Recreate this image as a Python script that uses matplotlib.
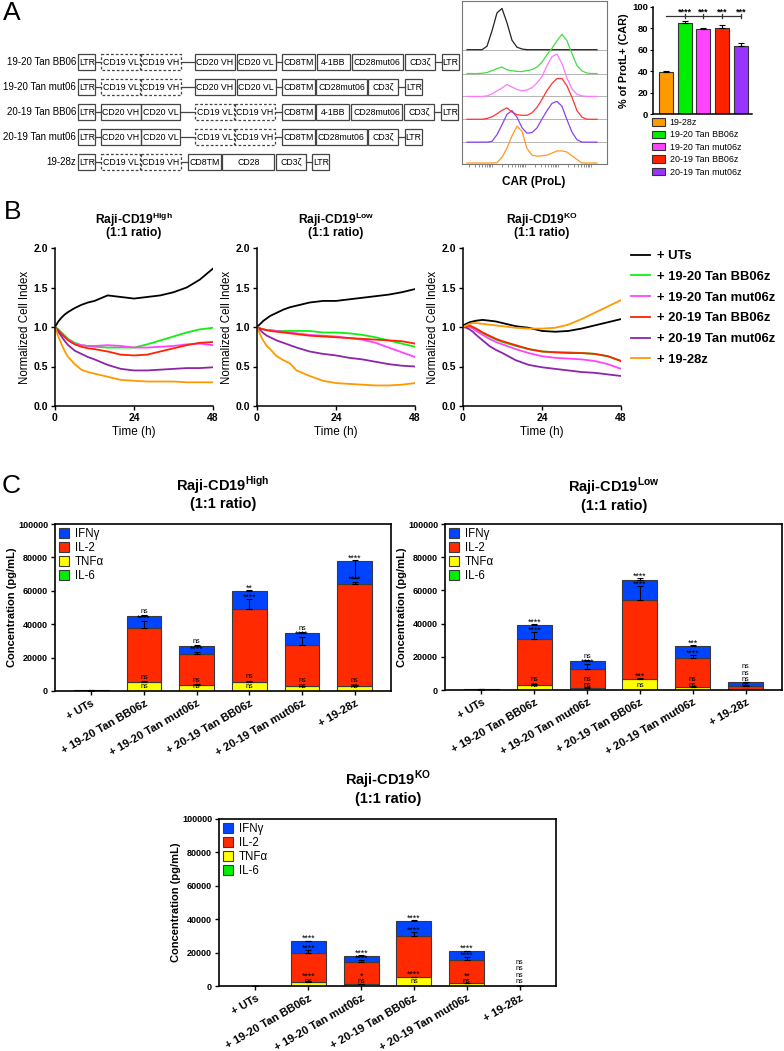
import numpy as np
import matplotlib
matplotlib.use('Agg')
import matplotlib.pyplot as plt
from matplotlib.patches import Rectangle, Patch
from matplotlib.ticker import FormatStrFormatter

plt.rcParams['font.family'] = ['Liberation Sans', 'DejaVu Sans']
plt.rcParams['mathtext.fontset'] = 'custom'
plt.rcParams['mathtext.rm'] = 'Liberation Sans'
plt.rcParams['mathtext.bf'] = 'Liberation Sans:bold'
plt.rcParams['axes.linewidth'] = 1.1

W, H = 784, 1051

# ---------------- data: panel A ----------------
constructs = ['19-20 Tan BB06', '19-20 Tan mut06', '20-19 Tan BB06', '20-19 Tan mut06', '19-28z']
box_w = {'LTR': 17, 'CD19 VL': 39, 'CD19 VH': 39.5, 'CD20 VH': 39.5, 'CD20 VL': 39,
         'CD8TM': 33, '4-1BB': 33, 'CD28mut06': 51, 'CD3ζ': 30, 'CD28': 52}
schematic_rows = [
    [('LTR', 0), ('CD19 VL', 6), ('CD19 VH', 1), ('CD20 VH', 14.5), ('CD20 VL', 2),
     ('CD8TM', 6), ('4-1BB', 2), ('CD28mut06', 2), ('CD3ζ', 2), ('LTR', 7)],
    [('LTR', 0), ('CD19 VL', 6), ('CD19 VH', 1), ('CD20 VH', 14.5), ('CD20 VL', 2),
     ('CD8TM', 6.5), ('CD28mut06', 1), ('CD3ζ', 1), ('LTR', 7)],
    [('LTR', 0), ('CD20 VH', 6), ('CD20 VL', 0.5), ('CD19 VL', 15), ('CD19 VH', 1),
     ('CD8TM', 7.5), ('4-1BB', 1), ('CD28mut06', 2), ('CD3ζ', 2), ('LTR', 7)],
    [('LTR', 0), ('CD20 VH', 6), ('CD20 VL', 0.5), ('CD19 VL', 15), ('CD19 VH', 1),
     ('CD8TM', 7.5), ('CD28mut06', 0.5), ('CD3ζ', 1), ('LTR', 7)],
    [('LTR', 0), ('CD19 VL', 6), ('CD19 VH', 1), ('CD8TM', 7.5), ('CD28', 1),
     ('CD3ζ', 2), ('LTR', 6)],
]

# flow histograms (CAR ProL), heights read per lane
hist_x = [5, 10, 15, 20, 25, 30, 35, 40, 45, 50, 55, 60, 65, 70, 75, 80, 85, 90,
          95, 100, 105, 110, 115, 120, 125, 130, 135]
hist_ut = [0, 0, 0, 0, 3.5, 19, 37, 41.5, 27, 9.5, 2.5, 0.7, 0, 0, 0, 0, 0, 0,
           0, 0, 0, 0, 0, 0, 0, 0, 0]
hist_bb1920 = [0, 0, 0, 0.3, 1, 3, 5, 6.5, 3.8, 2.8, 2.2, 2, 3, 4, 6.5, 11.5, 19, 25.5,
               33, 39.5, 33, 20, 8, 2.6, 0.5, 0, 0]
hist_mut1920 = [0, 0, 0, 0, 0.5, 2.5, 5.5, 8.5, 12, 9.5, 7, 5.6, 6.5, 8.8, 13.5, 20, 31, 40,
                42.5, 33, 18.5, 7.5, 2, 0.5, 0, 0, 0]
hist_bb2019 = [0, 0, 0, 0, 0.8, 2.5, 5.5, 9, 11.5, 7.2, 4.6, 4, 4, 6.5, 12, 20, 29, 36,
               41, 41, 33.5, 22, 8.6, 2, 0, 0, 0]
hist_mut2019 = [0, 0, 0, 0, 0, 0.8, 7.5, 17.5, 28, 31.7, 25, 14.5, 9, 9.7, 14.3, 23.3, 31.7, 39,
                41, 36, 22.5, 10, 2.4, 0, 0, 0, 0]
hist_1928 = [0, 0, 0, 0, 0, 0, 0.3, 5.8, 15, 27.4, 37, 32, 14.5, 7.9, 6.9, 7.2, 8, 9.9,
             12.1, 12.2, 11, 7.2, 3.5, 0, 0, 0, 0]

car_groups = ['19-28z', '19-20 Tan BB06z', '19-20 Tan mut06z', '20-19 Tan BB06z', '20-19 Tan mut06z']
car_pct = [39, 85, 79, 80, 64]
car_sd = [1.2, 1.5, 1.8, 2.8, 2.5]
car_stars = ['****', '***', '***', '***']

# ---------------- data: panel B ----------------
effectors = ['+ UTs', '+ 19-20 Tan BB06z', '+ 19-20 Tan mut06z', '+ 20-19 Tan BB06z',
             '+ 20-19 Tan mut06z', '+ 19-28z']
t_hours = [0, 1, 2, 3, 4, 6, 8, 10, 12, 16, 20, 24, 28, 32, 36, 40, 44, 48]
nci_high = [
    [1.00, 1.07, 1.12, 1.16, 1.19, 1.24, 1.28, 1.31, 1.33, 1.40, 1.38, 1.36, 1.38, 1.40, 1.44, 1.50, 1.60, 1.74],
    [1.00, 0.97, 0.93, 0.89, 0.85, 0.80, 0.77, 0.76, 0.75, 0.74, 0.74, 0.74, 0.78, 0.83, 0.88, 0.93, 0.97, 0.99],
    [1.00, 0.96, 0.92, 0.88, 0.84, 0.79, 0.77, 0.76, 0.76, 0.77, 0.76, 0.74, 0.74, 0.75, 0.76, 0.78, 0.79, 0.77],
    [1.00, 0.96, 0.91, 0.87, 0.83, 0.78, 0.75, 0.73, 0.72, 0.69, 0.65, 0.64, 0.65, 0.69, 0.73, 0.77, 0.80, 0.81],
    [1.00, 0.94, 0.88, 0.82, 0.77, 0.70, 0.66, 0.62, 0.59, 0.52, 0.47, 0.45, 0.45, 0.46, 0.47, 0.48, 0.48, 0.49],
    [1.00, 0.88, 0.78, 0.69, 0.62, 0.53, 0.46, 0.43, 0.41, 0.37, 0.33, 0.32, 0.31, 0.31, 0.31, 0.30, 0.30, 0.30],
]
nci_low = [
    [1.00, 1.04, 1.08, 1.11, 1.14, 1.18, 1.22, 1.25, 1.27, 1.31, 1.33, 1.33, 1.35, 1.37, 1.39, 1.41, 1.44, 1.48],
    [1.00, 0.98, 0.97, 0.96, 0.96, 0.95, 0.95, 0.95, 0.95, 0.95, 0.93, 0.93, 0.92, 0.90, 0.87, 0.83, 0.79, 0.75],
    [1.00, 0.98, 0.97, 0.96, 0.96, 0.95, 0.94, 0.93, 0.92, 0.90, 0.89, 0.88, 0.86, 0.84, 0.80, 0.74, 0.68, 0.62],
    [1.00, 0.98, 0.97, 0.96, 0.95, 0.94, 0.93, 0.92, 0.91, 0.89, 0.88, 0.87, 0.86, 0.85, 0.84, 0.83, 0.82, 0.79],
    [1.00, 0.96, 0.92, 0.89, 0.87, 0.83, 0.80, 0.77, 0.74, 0.69, 0.66, 0.64, 0.61, 0.59, 0.56, 0.53, 0.51, 0.50],
    [1.00, 0.90, 0.82, 0.76, 0.72, 0.63, 0.58, 0.54, 0.45, 0.38, 0.32, 0.29, 0.28, 0.27, 0.26, 0.26, 0.27, 0.29],
]
nci_ko = [
    [1.02, 1.04, 1.06, 1.07, 1.08, 1.09, 1.08, 1.07, 1.05, 1.01, 0.99, 0.95, 0.94, 0.95, 0.98, 1.02, 1.06, 1.10],
    [1.00, 1.01, 1.01, 0.99, 0.97, 0.92, 0.88, 0.84, 0.81, 0.76, 0.72, 0.69, 0.68, 0.68, 0.67, 0.66, 0.63, 0.57],
    [1.00, 1.00, 1.00, 0.98, 0.95, 0.90, 0.85, 0.81, 0.78, 0.72, 0.67, 0.63, 0.61, 0.60, 0.59, 0.57, 0.53, 0.47],
    [1.00, 1.01, 1.02, 1.00, 0.98, 0.93, 0.89, 0.85, 0.82, 0.77, 0.72, 0.69, 0.68, 0.67, 0.67, 0.66, 0.63, 0.57],
    [1.00, 0.99, 0.97, 0.94, 0.90, 0.83, 0.76, 0.71, 0.67, 0.58, 0.52, 0.49, 0.47, 0.45, 0.43, 0.42, 0.40, 0.38],
    [1.00, 1.02, 1.04, 1.05, 1.05, 1.04, 1.03, 1.02, 1.01, 0.99, 0.98, 0.98, 0.99, 1.03, 1.10, 1.18, 1.26, 1.34],
]

# ---------------- data: panel C (pg/mL) ----------------
cytokines = ['IFNγ', 'IL-2', 'TNFα', 'IL-6']
high_il6 = [20, 50, 30, 60, 30, 40]
high_tnf = [150, 5200, 3500, 5600, 2700, 3200]
high_il2 = [100, 32400, 18500, 43400, 24900, 60800]
high_ifn = [100, 7000, 4800, 11000, 7000, 13800]
high_tnf_sd = [0, 600, 400, 500, 400, 400]
high_il2_sd = [0, 4500, 1500, 6000, 5000, 1500]
high_ifn_sd = [0, 700, 600, 500, 500, 400]
high_ifn_lo = [0, 0, 0, 0, 0, 10000]
high_sig = [['', '', '', ''], ['ns', '****', 'ns', 'ns'], ['ns', '****', 'ns', 'ns'],
            ['**', '****', 'ns', 'ns'], ['ns', '****', 'ns', 'ns'], ['****', '****', 'ns', 'ns']]

low_il6 = [20, 50, 30, 60, 30, 20]
low_tnf = [100, 2800, 1400, 6400, 2000, 600]
low_il2 = [100, 27700, 11500, 47600, 17300, 1600]
low_ifn = [100, 8500, 4400, 12000, 7000, 2400]
low_tnf_sd = [0, 500, 300, 600, 400, 200]
low_il2_sd = [0, 4200, 2800, 8700, 1600, 600]
low_ifn_sd = [0, 500, 600, 1500, 500, 400]
low_ifn_lo = [0, 0, 0, 0, 0, 0]
low_sig = [['', '', '', ''], ['****', '****', 'ns', 'ns'], ['ns', '****', 'ns', 'ns'],
           ['****', '****', '***', 'ns'], ['***', '****', 'ns', 'ns'], ['ns', 'ns', 'ns', 'ns']]

ko_il6 = [0, 40, 20, 50, 20, 0]
ko_tnf = [0, 2600, 1200, 5200, 1800, 0]
ko_il2 = [0, 17200, 13400, 24400, 14000, 0]
ko_ifn = [0, 7000, 3600, 9400, 5000, 0]
ko_tnf_sd = [0, 300, 200, 400, 200, 0]
ko_il2_sd = [0, 1800, 800, 2600, 1400, 0]
ko_ifn_sd = [0, 400, 300, 400, 300, 0]
ko_ifn_lo = [0, 0, 0, 0, 0, 0]
ko_sig = [['', '', '', ''], ['****', '****', '****', 'ns'], ['****', '****', '*', 'ns'],
          ['****', '****', '****', 'ns'], ['****', '****', '**', 'ns'], ['ns', 'ns', 'ns', 'ns']]

# ---------------- styles ----------------
car_colors = ['#ff9900', '#00ee00', '#ff44ff', '#ff2200', '#9933ff']
hist_colors = ['#222222', '#44dd44', '#ff77ff', '#ff3333', '#8844ee', '#ff9922']
kin_colors = ['black', '#11ee11', '#ff44ff', '#ff2200', '#8e24aa', '#ff9900']
cyto_colors = {'IFNγ': '#0044ff', 'IL-2': '#ff2a00', 'TNFα': '#ffff00', 'IL-6': '#00ee00'}


def px_axes(fig, l, t, r, b):
    return fig.add_axes([l / W, 1 - b / H, (r - l) / W, (b - t) / H])


def bold_ticks(ax, size):
    ax.tick_params(labelsize=size)
    for lab in ax.get_xticklabels() + ax.get_yticklabels():
        lab.set_fontweight('bold')


fig = plt.figure(figsize=(W / 100, H / 100), dpi=100)
over = fig.add_axes([0, 0, 1, 1])
over.set_xlim(0, W)
over.set_ylim(H, 0)
over.axis('off')

for letter, lx, ly in [('A', 3, 1), ('B', 4, 200), ('C', 2, 474)]:
    over.text(lx, ly, letter, fontsize=19, va='top', ha='left')

# ---- A: schematic ----
row_y = [62, 87, 112, 137, 162]
for label, row, yc in zip(constructs, schematic_rows, row_y):
    over.text(76, yc, label, ha='right', va='center', fontsize=7)
    prev_end = None
    x = 78.3
    for name, gap in row:
        if prev_end is not None:
            x = prev_end + gap
            if gap >= 5:
                over.plot([prev_end, x], [yc, yc], color='#444444', lw=0.9)
        w = box_w[name]
        ls = (0, (2.2, 1.6)) if name.startswith('CD19') else '-'
        over.add_patch(Rectangle((x, yc - 8), w, 16, fill=False, ec='#444444', lw=0.9, ls=ls))
        over.text(x + w / 2, yc + 0.5, name, ha='center', va='center', fontsize=6.3)
        prev_end = x + w

# ---- A: histograms ----
axh = px_axes(fig, 462, 1, 607, 164)
lanes = [hist_ut, hist_bb1920, hist_mut1920, hist_bb2019, hist_mut2019, hist_1928]
bases = [115, 91, 68, 45, 22, 1]
for base in bases[:-1]:
    axh.axhline(base, color='#aaaaaa', lw=0.6, zorder=1)
for h, base, col in zip(lanes, bases, hist_colors):
    axh.plot(hist_x, np.array(h) + base, color=col, lw=0.9, zorder=2)
axh.set_xlim(0, 145)
axh.set_ylim(0, 164)
for sp in axh.spines.values():
    sp.set_color('#777777')
    sp.set_linewidth(0.8)
decades = np.array([30, 63, 96, 129])
minor = [d - 33 * (1 - np.log10(k)) for d in decades for k in range(2, 10)]
axh.set_xticks(list(decades) + [m for m in minor if m > 0])
axh.tick_params(axis='x', length=2, width=0.5, color='#666666', labelbottom=False)
axh.set_yticks([])
over.text(534, 182, 'CAR (ProL)', ha='center', va='center', fontsize=8.5, fontweight='bold')

# ---- A: % CAR bar chart ----
axb = px_axes(fig, 653, 7, 752, 114)
xb = np.arange(len(car_pct))
axb.bar(xb, car_pct, width=0.75, color=car_colors, edgecolor='#333333', lw=0.8)
axb.errorbar(xb, car_pct, yerr=[np.zeros(len(car_sd)), car_sd], fmt='none',
             ecolor='black', elinewidth=0.8, capsize=2.5, capthick=0.8)
axb.set_xlim(-0.69, 4.59)
axb.set_ylim(0, 100)
axb.set_yticks(range(0, 101, 20))
axb.set_xticks([])
axb.spines['top'].set_visible(False)
axb.spines['right'].set_visible(False)
axb.plot([0, 4], [91.6, 91.6], color='#333333', lw=0.9, clip_on=False)
for i, s in enumerate(car_stars, start=1):
    axb.plot([i, i], [89.5, 93.6], color='#333333', lw=0.9, clip_on=False)
    axb.text(i, 95.5, s, ha='center', va='center', fontsize=6.5, fontweight='bold')
bold_ticks(axb, 6.8)
axb.tick_params(axis='y', length=2.5, pad=1)
axb.set_ylabel('% of ProtL+ (CAR)', fontsize=7.8, fontweight='bold', labelpad=2)
fig.legend([Patch(facecolor=c, edgecolor='#333333', lw=0.8) for c in car_colors], car_groups,
           loc='upper left', bbox_to_anchor=(652 / W, 1 - 118 / H), frameon=False,
           fontsize=6.4, handlelength=1.5, handleheight=0.9, labelspacing=0.38,
           handletextpad=0.5, borderpad=0, borderaxespad=0)

# ---- B: killing kinetics ----
b_boxes = [(55, 213), (257, 415), (463, 621)]
b_titles = [r'Raji-CD19$^{\mathbf{High}}$', r'Raji-CD19$^{\mathbf{Low}}$', r'Raji-CD19$^{\mathbf{KO}}$']
b_lines = None
for (l, r), curves, title in zip(b_boxes, [nci_high, nci_low, nci_ko], b_titles):
    ax = px_axes(fig, l, 248, r, 406)
    lines = []
    for vals, col in zip(curves, kin_colors):
        ln, = ax.plot(t_hours, vals, color=col, lw=1.3)
        lines.append(ln)
    b_lines = lines
    ax.set_xlim(0, 48)
    ax.set_ylim(0, 2)
    ax.set_xticks([0, 24, 48])
    ax.set_yticks([0, 0.5, 1.0, 1.5, 2.0])
    ax.yaxis.set_major_formatter(FormatStrFormatter('%.1f'))
    ax.spines['top'].set_visible(False)
    ax.spines['right'].set_visible(False)
    ax.tick_params(length=3, width=1, pad=2)
    bold_ticks(ax, 7.5)
    ax.set_xlabel('Time (h)', fontsize=8.5, labelpad=2)
    ax.set_ylabel('Normalized Cell Index', fontsize=8.3, labelpad=2)
    cx = (l + r) / 2
    over.text(cx, 220, title, ha='center', va='center', fontsize=8.7, fontweight='bold')
    over.text(cx, 233, '(1:1 ratio)', ha='center', va='center', fontsize=8.7, fontweight='bold')

fig.legend(b_lines, effectors, loc='upper left', bbox_to_anchor=(631 / W, 1 - 250 / H),
           frameon=False, prop={'weight': 'bold', 'size': 9.4}, handlelength=1.45,
           labelspacing=0.66, handletextpad=0.55, borderpad=0, borderaxespad=0)


# ---- C: cytokines ----
def sig_baseline(lab, err_top):
    return err_top + (1500 if lab == 'ns' else -300)


def draw_cytokines(ax, il6, tnf, il2, ifn, tnf_sd, il2_sd, ifn_sd, ifn_lo, sig):
    x = np.arange(len(il6))
    b1 = np.array(il6, float)
    b2 = b1 + tnf
    b3 = b2 + il2
    b4 = b3 + ifn
    kw = dict(width=0.66, edgecolor='#3a3a3a', lw=0.8)
    ax.bar(x, il6, color=cyto_colors['IL-6'], label='IL-6', **kw)
    ax.bar(x, tnf, bottom=b1, color=cyto_colors['TNFα'], label='TNFα', **kw)
    ax.bar(x, il2, bottom=b2, color=cyto_colors['IL-2'], label='IL-2', **kw)
    ax.bar(x, ifn, bottom=b3, color=cyto_colors['IFNγ'], label='IFNγ', **kw)
    ekw = dict(fmt='none', ecolor='black', elinewidth=0.8, capsize=2.5, capthick=0.8)
    zero = np.zeros(len(x))
    ax.errorbar(x, b2, yerr=[zero, tnf_sd], **ekw)
    ax.errorbar(x, b3, yerr=[zero, il2_sd], **ekw)
    ax.errorbar(x, b4, yerr=[ifn_lo, ifn_sd], **ekw)
    for i in x:
        lab_ifn, lab_il2, lab_tnf, lab_il6 = sig[i]
        if not lab_ifn:
            continue
        tops = [b1[i], b2[i] + tnf_sd[i], b3[i] + il2_sd[i], b4[i] + ifn_sd[i]]
        labs = [lab_il6, lab_tnf, lab_il2, lab_ifn]
        prev = None
        for lab, top in zip(labs, tops):
            y = sig_baseline(lab, top)
            if prev is not None:
                y = max(y, prev + (3900 if lab == 'ns' else 2800))
            prev = y
            ax.text(i, y, lab, ha='center', va='baseline',
                    fontsize=5.2 if lab == 'ns' else 6.3)
    ax.set_xlim(-0.69, 5.69)
    ax.set_ylim(0, 100000)
    ax.set_yticks(range(0, 100001, 20000))
    ax.set_xticks(x)
    ax.set_xticklabels(effectors, rotation=30, ha='right', rotation_mode='anchor')
    ax.tick_params(length=3, width=1, pad=2)
    bold_ticks(ax, 6.5)
    for lab in ax.get_xticklabels():
        lab.set_fontsize(8)
    for sp in ax.spines.values():
        sp.set_linewidth(1.2)
    ax.set_ylabel('Concentration (pg/mL)', fontsize=8, fontweight='bold', labelpad=1)
    handles, labels = ax.get_legend_handles_labels()
    ax.legend(handles[::-1], labels[::-1], loc='upper left', frameon=False, fontsize=8.3,
              handlelength=0.9, handleheight=0.9, labelspacing=0.18, handletextpad=0.5,
              borderpad=0.2, borderaxespad=0.15)


axc1 = px_axes(fig, 55, 524, 391, 691)
draw_cytokines(axc1, high_il6, high_tnf, high_il2, high_ifn, high_tnf_sd, high_il2_sd,
               high_ifn_sd, high_ifn_lo, high_sig)
axc2 = px_axes(fig, 445, 524, 782, 690)
draw_cytokines(axc2, low_il6, low_tnf, low_il2, low_ifn, low_tnf_sd, low_il2_sd,
               low_ifn_sd, low_ifn_lo, low_sig)
axc3 = px_axes(fig, 219, 819, 556, 986)
draw_cytokines(axc3, ko_il6, ko_tnf, ko_il2, ko_ifn, ko_tnf_sd, ko_il2_sd,
               ko_ifn_sd, ko_ifn_lo, ko_sig)

for cx, y1, title in [(223, 485, b_titles[0]), (614, 487, b_titles[1]), (388, 780, b_titles[2])]:
    over.text(cx, y1, title, ha='center', va='center', fontsize=10.5, fontweight='bold')
    over.text(cx, y1 + 19, '(1:1 ratio)', ha='center', va='center', fontsize=10.5, fontweight='bold')

fig.savefig('out.png', dpi=100)
